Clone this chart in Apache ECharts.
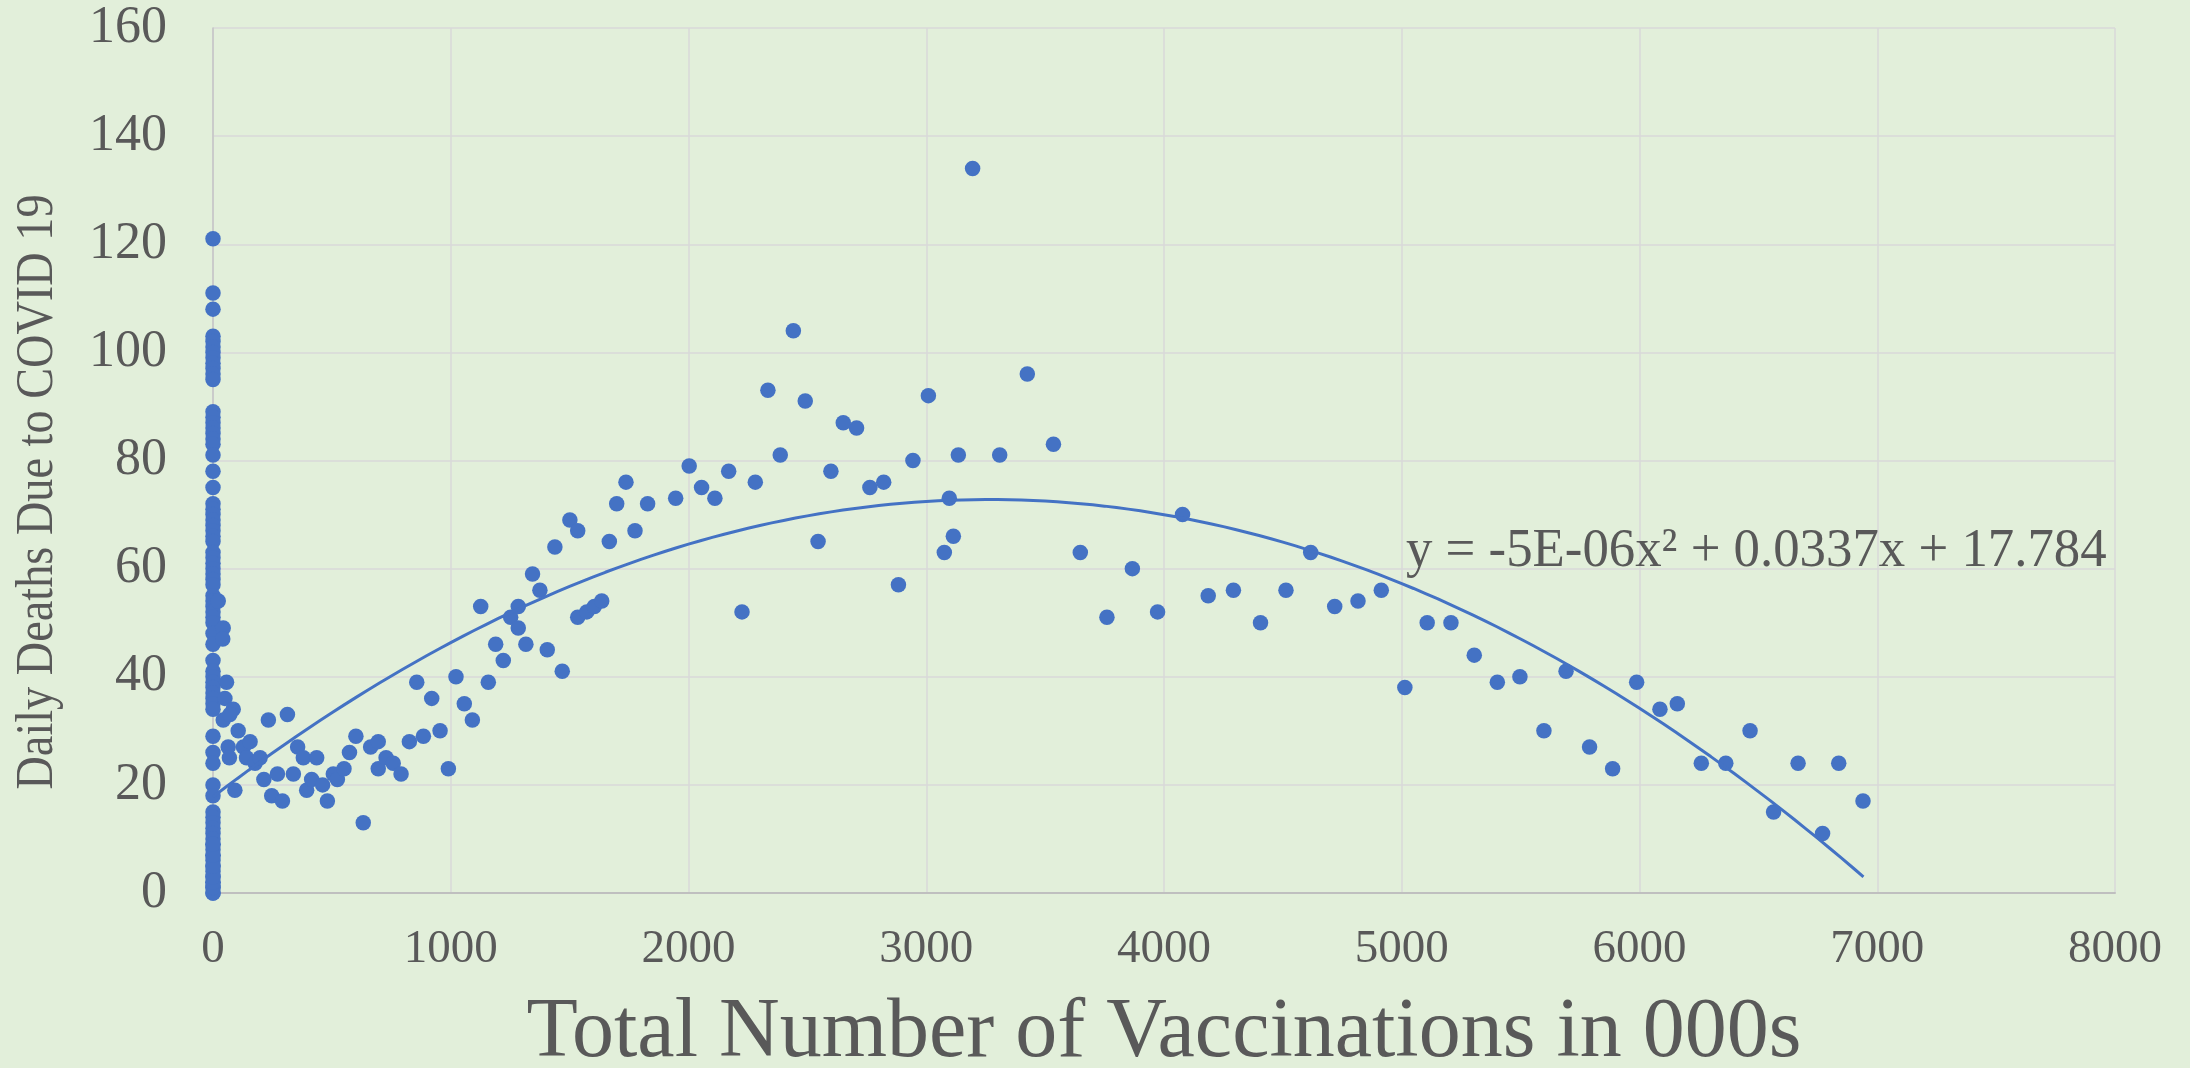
<!DOCTYPE html>
<html>
<head>
<meta charset="utf-8">
<title>Daily Deaths vs Total Vaccinations</title>
<script src="https://cdn.jsdelivr.net/npm/echarts@6/dist/echarts.min.js"></script>
<style>
  html, body { margin: 0; padding: 0; background: #E2EFDA; }
  #chart { width: 2190px; height: 1068px; }
</style>
</head>
<body>
<div id="chart"></div>
<script>
// days before vaccinations started (x = 0)
const zeroVaxDeaths = [121, 111, 108, 103, 102, 101, 100, 99, 98, 97, 96, 95,
    89, 88, 87, 86, 85, 84, 83, 81, 78, 75, 72, 71, 70, 69, 68, 67, 66, 65,
    63, 62, 61, 60, 59, 58, 57, 55, 54, 53, 52, 51, 50, 48, 46, 43, 41, 40,
    39, 38, 37, 36, 35, 34, 29, 26, 24, 20, 18, 15, 14, 13, 12, 11, 10, 9,
    8, 7, 6, 5, 4, 3, 2, 1, 0, 0, 1, 2, 3, 5, 7, 9];

// total vaccinations (000s) and daily deaths for the remaining days
const vaxTotals = [22, 43, 41, 57, 50, 85, 43, 71, 106, 64, 69, 92, 128, 141, 156,
    177, 198, 214, 233, 247, 271, 292, 313, 338, 356, 380, 394, 415, 436, 461,
    481, 506, 523, 551, 574, 601, 632, 663, 695, 695, 728, 758, 791, 826, 857,
    885, 920, 955, 990, 1022, 1057, 1091, 1126, 1158, 1189, 1221, 1252, 1284,
    1284, 1316, 1344, 1375, 1406, 1438, 1469, 1501, 1534, 1534, 1572, 1604,
    1635, 1667, 1698, 1737, 1775, 1828, 1946, 2003, 2055, 2111, 2169, 2225,
    2281, 2334, 2386, 2441, 2491, 2545, 2599, 2651, 2707, 2763, 2821, 2883,
    2944, 3009, 3076, 3097, 3114, 3135, 3195, 3309, 3425, 3535, 3648, 3760,
    3867, 3973, 4078, 4186, 4292, 4406, 4513, 4617, 4718, 4816, 4914, 5013,
    5107, 5207, 5305, 5402, 5497, 5598, 5691, 5790, 5887, 5988, 6086, 6159,
    6260, 6363, 6465, 6564, 6667, 6770, 6838, 6940];
const dailyDeaths = [54, 49, 47, 39, 36, 34, 32, 33, 30, 27, 25, 19, 27, 25, 28,
    24, 25, 21, 32, 18, 22, 17, 33, 22, 27, 25, 19, 21, 25, 20,
    17, 22, 21, 23, 26, 29, 13, 27, 28, 23, 25, 24, 22, 28, 39,
    29, 36, 30, 23, 40, 35, 32, 53, 39, 46, 43, 51, 53,
    49, 46, 59, 56, 45, 64, 41, 69, 67, 51, 52, 53,
    54, 65, 72, 76, 67, 72, 73, 79, 75, 73, 78, 52,
    76, 93, 81, 104, 91, 65, 78, 87, 86, 75, 76, 57,
    80, 92, 63, 73, 66, 81, 134, 81, 96, 83, 63, 51,
    60, 52, 70, 55, 56, 50, 56, 63, 53, 54, 56, 38,
    50, 50, 44, 39, 40, 30, 41, 27, 23, 39, 34, 35,
    24, 24, 30, 15, 24, 11, 24, 17];

// polynomial trendline: c0 + c1*x + c2*x^2
const trendCoef = [17.784, 0.03369, -5.16e-6];
const trendEnd = 6942;
const trendLabel = 'y = -5E-06x\u00B2 + 0.0337x + 17.784';

const FONT = "'Liberation Serif', 'Times New Roman', serif";
const TEXT = '#595959';
const BLUE = '#4472C4';

const points = zeroVaxDeaths.map(y => [0, y])
    .concat(vaxTotals.map((x, i) => [x, dailyDeaths[i]]));

const trend = [];
for (let x = 0; x <= trendEnd; x += 50) {
    trend.push([x, trendCoef[0] + trendCoef[1] * x + trendCoef[2] * x * x]);
}
trend.push([trendEnd, trendCoef[0] + trendCoef[1] * trendEnd + trendCoef[2] * trendEnd * trendEnd]);

const chart = echarts.init(document.getElementById('chart'));

chart.setOption({
    backgroundColor: '#E2EFDA',
    animation: false,
    textStyle: { fontFamily: FONT },
    grid: { left: 213, right: 75, top: 28, bottom: 175, containLabel: false, outerBoundsMode: 'none' },
    xAxis: {
        type: 'value',
        min: 0,
        max: 8000,
        interval: 1000,
        name: 'Total Number of Vaccinations in 000s',
        nameLocation: 'middle',
        nameGap: 99,
        nameTextStyle: { fontFamily: FONT, fontSize: 84, color: TEXT },
        axisLine: { show: true, lineStyle: { color: '#BFBFBF', width: 2 } },
        axisTick: { show: false },
        axisLabel: {
            fontFamily: FONT, fontSize: 47, color: TEXT, margin: 33,
            formatter: v => String(v)
        },
        splitLine: { show: true, lineStyle: { color: '#D9D9D9', width: 1.5 } }
    },
    yAxis: {
        type: 'value',
        min: 0,
        max: 160,
        interval: 20,
        axisLine: { show: true, lineStyle: { color: '#C4C4C4', width: 1.5 } },
        axisTick: { show: false },
        axisLabel: { fontFamily: FONT, fontSize: 52, color: TEXT, margin: 46 },
        splitLine: { show: true, lineStyle: { color: '#D9D9D9', width: 1.5 } }
    },
    graphic: [
        {
            type: 'text',
            x: 38,
            y: 492,
            rotation: Math.PI / 2,
            scaleX: 0.89,
            style: {
                text: 'Daily Deaths Due to COVID 19',
                font: '52px ' + FONT,
                fill: TEXT,
                align: 'center',
                verticalAlign: 'middle'
            }
        },
        {
            type: 'text',
            x: 1406,
            y: 552,
            scaleX: 0.96,
            z: 10,
            style: {
                text: trendLabel,
                font: '55px ' + FONT,
                fill: TEXT,
                align: 'left',
                verticalAlign: 'middle'
            }
        }
    ],
    series: [
        {
            type: 'scatter',
            data: points,
            symbolSize: 15.5,
            itemStyle: { color: BLUE, opacity: 1 },
            z: 2
        },
        {
            type: 'line',
            data: trend,
            showSymbol: false,
            smooth: false,
            lineStyle: { color: BLUE, width: 3 },
            z: 3
        }
    ]
});
</script>
</body>
</html>
